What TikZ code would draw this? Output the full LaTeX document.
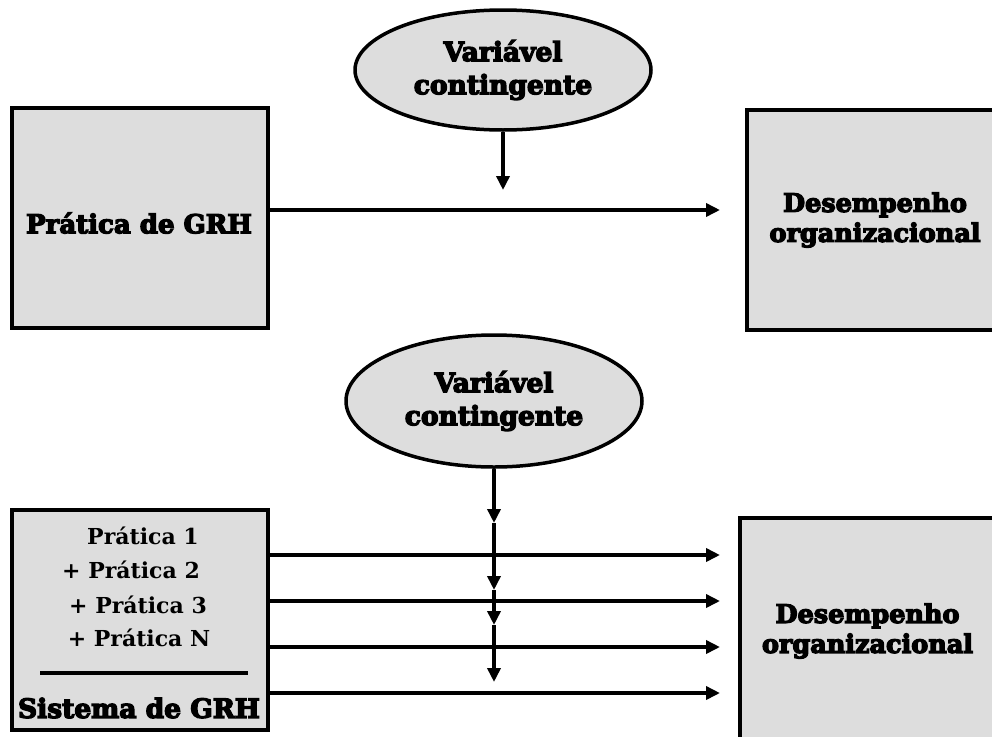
\documentclass[tikz,border=0pt]{standalone}
\usepackage{fontspec}
\setmainfont{DejaVu Serif}
\newfontfamily\heavyfont[FakeBold=5]{DejaVu Serif Bold}
\newfontfamily\medfont{DejaVu Serif Bold}
\usetikzlibrary{arrows.meta,shapes.geometric}
\definecolor{boxgray}{RGB}{221,221,221}
\tikzset{
  box/.style={draw, line width=4pt, fill=boxgray, rectangle, inner sep=0pt},
  ell/.style={draw, line width=3.5pt, fill=boxgray, ellipse, inner sep=0pt},
  heavy/.style={font=\heavyfont\fontsize{26}{33}\selectfont, align=center},
  heavyel/.style={font=\heavyfont\fontsize{26.5}{33}\selectfont, align=center},
  heavysm/.style={font=\heavyfont\fontsize{25.5}{30}\selectfont, align=center},
  med/.style={font=\medfont\fontsize{22}{26}\selectfont, inner sep=0pt},
  arr/.style={line width=4pt, -{Triangle[length=14pt,width=13pt]}},
}
\begin{document}
\begin{tikzpicture}[x=1pt,y=-1pt]
\useasboundingbox (0,0) rectangle (992,736);
\clip (0,0) rectangle (992,736);
\fill[white] (0,0) rectangle (992,736);

% ---------- upper model ----------
\node[box, minimum width=256pt, minimum height=220pt] (box1) at (140,218) {};
\node[heavy, inner sep=0pt] (box1t) at (139,223) {Prática de GRH};
\node[ell, minimum width=296pt, minimum height=120pt, heavyel] (ell1) at (503,70) {Variável\\contingente};
\node[box, minimum width=256pt, minimum height=220pt, heavysm] (out1) at (875,220) {Desempenho\\organizacional};

\coordinate (t1) at (503,190);
\coordinate (h1) at (720,210);
\draw[arr] (ell1.south) -- (t1);
\draw[arr] (box1.east |- h1) -- (h1);

% ---------- lower model ----------
\node[box, minimum width=256pt, minimum height=220pt] (box2) at (140,620) {};
\node[med] (p1) at (143,536) {Prática 1};
\node[med] (p2) at (131,570) {+ Prática 2};
\node[med] (p3) at (138,605) {+ Prática 3};
\node[med] (p4) at (139,638) {+ Prática N};
\draw[line width=4pt] (40,673) -- (248,673);
\node[font=\heavyfont\fontsize{26.5}{30}\selectfont, inner sep=0pt] (sys) at (139,708) {Sistema de GRH};

\node[ell, minimum width=296pt, minimum height=132pt, heavyel] (ell2) at (494,401) {Variável\\contingente};
\node[box, minimum width=255pt, minimum height=226pt, heavysm] (out2) at (867.5,631) {Desempenho\\organizacional};

\coordinate (v1) at (494,523);
\coordinate (v2) at (494,590);
\coordinate (v3) at (494,625);
\coordinate (v4) at (494,682);
\draw[arr] (ell2.south) -- (v1);
\draw[arr] (v1) -- (v2);
\draw[arr] (v2) -- (v3);
\draw[arr] (v3) -- (v4);

\coordinate (e1) at (720,555);
\coordinate (e2) at (720,601);
\coordinate (e3) at (720,647);
\coordinate (e4) at (720,693);
\draw[arr] (box2.east |- e1) -- (e1);
\draw[arr] (box2.east |- e2) -- (e2);
\draw[arr] (box2.east |- e3) -- (e3);
\draw[arr] (box2.east |- e4) -- (e4);
\end{tikzpicture}
\end{document}
